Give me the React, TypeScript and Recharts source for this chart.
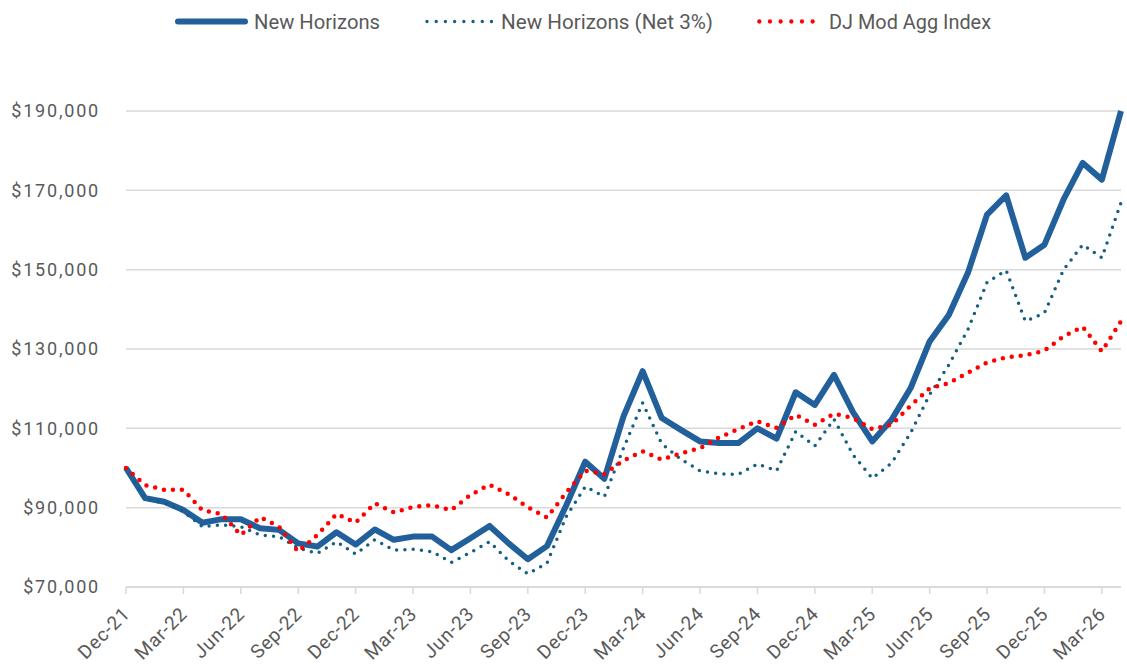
import React from "react";
import { CartesianGrid, Line, LineChart, XAxis, YAxis } from "recharts";

const MONTHS = [
  "Dec-21", "Jan-22", "Feb-22", "Mar-22", "Apr-22", "May-22", "Jun-22", "Jul-22", "Aug-22", "Sep-22", "Oct-22", "Nov-22",
  "Dec-22", "Jan-23", "Feb-23", "Mar-23", "Apr-23", "May-23", "Jun-23", "Jul-23", "Aug-23", "Sep-23", "Oct-23", "Nov-23",
  "Dec-23", "Jan-24", "Feb-24", "Mar-24", "Apr-24", "May-24", "Jun-24", "Jul-24", "Aug-24", "Sep-24", "Oct-24", "Nov-24",
  "Dec-24", "Jan-25", "Feb-25", "Mar-25", "Apr-25", "May-25", "Jun-25", "Jul-25", "Aug-25", "Sep-25", "Oct-25", "Nov-25",
  "Dec-25", "Jan-26", "Feb-26", "Mar-26", "Apr-26",
];

const NEW_HORIZONS = [
  100000, 92400, 91500, 89400, 86200, 87100, 87100, 84800, 84400, 81000, 80200, 83800,
  80700, 84500, 81900, 82700, 82700, 79300, 82300, 85400, 81000, 77000, 80300, 90500,
  101600, 97300, 113000, 124400, 112600, 109600, 106700, 106300, 106300, 110000, 107400, 119100,
  115900, 123500, 114000, 106700, 112100, 120100, 131900, 138600, 149200, 163900, 168700, 153000,
  156300, 167700, 176900, 172700, 190000,
];

const NEW_HORIZONS_NET = [
  100000, 92200, 91200, 89000, 85200, 85700, 85200, 83100, 82700, 79800, 78500, 81400,
  78300, 81900, 79300, 79500, 78900, 76200, 78700, 81400, 76600, 73300, 76000, 87700,
  95300, 92800, 105000, 116400, 106100, 102200, 99300, 98500, 98400, 101000, 99300, 109200,
  105600, 112300, 103300, 97400, 101200, 108800, 118500, 126000, 134900, 146800, 149800, 137000,
  139100, 150000, 156300, 153000, 166900,
];

const DJ_MOD_AGG = [
  100000, 95700, 94500, 94500, 89300, 88400, 83100, 87600, 85200, 78900, 83100, 88400,
  86200, 91100, 88800, 90200, 90600, 89400, 93200, 95800, 93400, 90100, 87500, 93800,
  99300, 98500, 101900, 104200, 102100, 103700, 105000, 107700, 109800, 111800, 110100, 113400,
  110900, 113700, 112600, 109800, 110900, 115700, 120100, 121400, 124000, 126600, 127900, 128400,
  129600, 133200, 135600, 129400, 137000,
];

const Y_TICKS = [70000, 90000, 110000, 130000, 150000, 170000, 190000];

const data = MONTHS.map((month, i) => ({
  month,
  nh: NEW_HORIZONS[i],
  net: NEW_HORIZONS_NET[i],
  dj: DJ_MOD_AGG[i],
}));

const FONT = "Roboto, 'Liberation Sans', sans-serif";
const TEXT = "#595959";
const BLUE = "#22609C";
const TEAL = "#156082";
const RED = "#FF0000";

const fmt = (v: number) => "$" + v.toLocaleString("en-US");

function DateTick({ x, y, payload }: { x?: number; y?: number; payload?: { value: string } }) {
  const ax = (x ?? 0) + 5;
  const ay = (y ?? 0) + 19;
  return (
    <text
      x={ax}
      y={ay}
      transform={`rotate(-45, ${ax}, ${ay})`}
      textAnchor="end"
      fill={TEXT}
      fontSize={19}
      fontFamily={FONT}
      letterSpacing={0.8}
    >
      {payload?.value}
    </text>
  );
}

function LegendRow() {
  const textProps = {
    fill: TEXT,
    fontSize: 21,
    fontFamily: FONT,
    lengthAdjust: "spacingAndGlyphs" as const,
  };
  return (
    <svg width={1127} height={44} style={{ position: "absolute", left: 0, top: 0 }}>
      <line x1={178} x2={245} y1={21.5} y2={21.5} stroke={BLUE} strokeWidth={6} strokeLinecap="round" />
      <text x={254} y={29} textLength={126} {...textProps}>New Horizons</text>
      <line x1={427} x2={491.5} y1={21.5} y2={21.5} stroke={TEAL} strokeWidth={3.4} strokeLinecap="round" strokeDasharray="0 9.21" />
      <text x={501} y={29} textLength={212} {...textProps}>New Horizons (Net 3%)</text>
      <line x1={759.3} x2={823.3} y1={21.5} y2={21.5} stroke={RED} strokeWidth={4.3} strokeLinecap="round" strokeDasharray="0 10.67" />
      <text x={829} y={29} textLength={162} {...textProps}>DJ Mod Agg Index</text>
    </svg>
  );
}

export default function App() {
  return (
    <div style={{ position: "absolute", left: 0, top: 0, width: 1127, height: 665, background: "#fff" }}>
      <LineChart
        width={1127}
        height={665}
        data={data}
        margin={{ top: 111, right: 6, bottom: 0, left: 0 }}
      >
        <CartesianGrid vertical={false} stroke="#d9d9d9" strokeWidth={1.5} />
        <XAxis
          dataKey="month"
          interval={2}
          height={78}
          tickSize={7}
          tickMargin={2}
          axisLine={{ stroke: "#d9d9d9", strokeWidth: 1.5 }}
          tickLine={{ stroke: "#d9d9d9", strokeWidth: 1.5 }}
          tick={<DateTick />}
        />
        <YAxis
          domain={[70000, 190000]}
          ticks={Y_TICKS}
          width={126}
          axisLine={false}
          tickLine={false}
          tickSize={0}
          tickMargin={26}
          tickFormatter={fmt}
          tick={{ fill: TEXT, fontSize: 18, fontFamily: FONT, letterSpacing: 1.8 }}
        />
        <Line
          type="linear"
          dataKey="nh"
          stroke={BLUE}
          strokeWidth={6}
          strokeLinejoin="round"
          dot={false}
          isAnimationActive={false}
        />
        <Line
          type="linear"
          dataKey="net"
          stroke={TEAL}
          strokeWidth={3.5}
          strokeLinecap="round"
          strokeDasharray="0 8.3"
          dot={false}
          isAnimationActive={false}
        />
        <Line
          type="linear"
          dataKey="dj"
          stroke={RED}
          strokeWidth={4.5}
          strokeLinecap="round"
          strokeDasharray="0 9"
          dot={false}
          isAnimationActive={false}
        />
      </LineChart>
      <LegendRow />
    </div>
  );
}
